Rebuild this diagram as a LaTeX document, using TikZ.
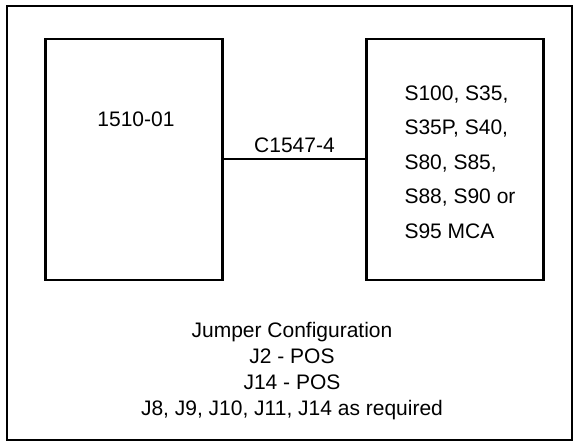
\documentclass[tikz,border=0pt]{standalone}
\usepackage{fontspec}
\setmainfont{Liberation Sans}
\begin{document}
\begin{tikzpicture}[x=1pt, y=-1pt,
    every node/.style={font=\fontsize{21}{25}\selectfont},
    unitbox/.style={draw, line width=2.3pt, minimum width=177pt, minimum height=241pt, inner sep=0pt}]
    \useasboundingbox (0,0) rectangle (575,443);

    % outer frame
    \draw[line width=1.6pt] (7,6) rectangle (572,440);

    % the two units
    \node[unitbox] (adapter) at (134,159.5) {};
    \node[unitbox] (mca) at (455,159.5) {};

    \node (adaptername) at (136,119) {1510-01};
    \node[anchor=west, align=left, font=\fontsize{21}{34.5}\selectfont] (mcalist) at (401,162)
        {S100, S35,\\S35P, S40,\\S80, S85,\\S88, S90 or\\S95 MCA};

    % cable
    \draw[line width=2pt] (adapter.east) -- (mca.west)
        node[midway, above=2pt] (cable) {C1547-4};

    % jumper notes
    \node[align=center, font=\fontsize{21}{26}\selectfont] (jumpers) at (292,371)
        {Jumper Configuration\\J2 - POS\\J14 - POS\\J8, J9, J10, J11, J14 as required};
\end{tikzpicture}
\end{document}
